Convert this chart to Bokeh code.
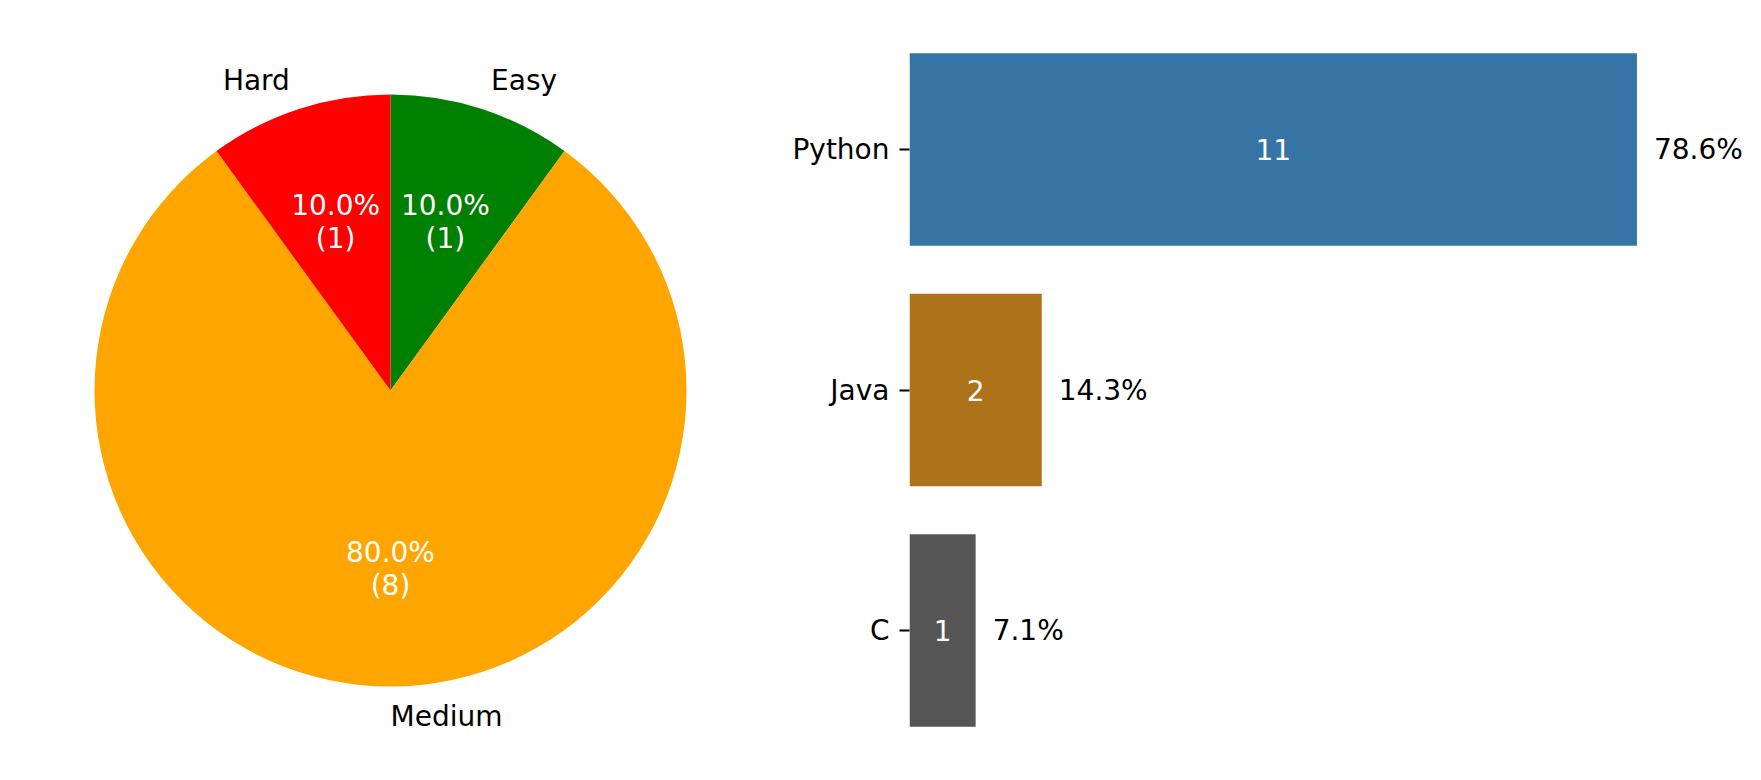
import math
from bokeh.plotting import figure
from bokeh.layouts import row
from bokeh.models import ColumnDataSource, Range1d, FixedTicker
from bokeh.core.properties import value
from bokeh.embed import file_html
from bokeh.resources import INLINE

# ---- data ----
difficulty = ["Easy", "Medium", "Hard"]
difficulty_counts = [1, 8, 1]
difficulty_colors = ["#008000", "#ffa500", "#ff0000"]

languages = ["C", "Java", "Python"]
language_counts = [1, 2, 11]
language_colors = ["#555555", "#ae721a", "#3574a5"]

FONT = value("DejaVu Sans")
FS = "28px"

# shared vertical frame geometry
TOP, FH, BOTTOM = 24, 731, 17
H = TOP + FH + BOTTOM

# ---- pie ----
R_PX = 296.0
W1 = 788
cx = 390.0           # centre x in figure px
cy_from_top = 366.0  # centre y measured from frame top
p1 = figure(width=W1, height=H, frame_width=W1, frame_height=FH,
            output_backend="svg", toolbar_location=None,
            x_axis_location=None, y_axis_location=None,
            min_border_left=0, min_border_right=0,
            min_border_top=TOP, min_border_bottom=BOTTOM,
            x_range=Range1d(-cx / R_PX, (W1 - cx) / R_PX),
            y_range=Range1d(-(FH - cy_from_top) / R_PX, cy_from_top / R_PX))
p1.grid.visible = False
p1.outline_line_color = None

total = sum(difficulty_counts)
starts, ends, lx, ly, align, px, py, pct1, pct2 = [], [], [], [], [], [], [], [], []
a = math.pi / 2
for name, c in zip(difficulty, difficulty_counts):
    span = 2 * math.pi * c / total
    b = a - span  # clockwise
    starts.append(b)
    ends.append(a)
    mid = (a + b) / 2
    lx.append(1.1 * math.cos(mid))
    ly.append(1.1 * math.sin(mid))
    align.append("left" if math.cos(mid) >= -1e-9 else "right")
    px.append(0.6 * math.cos(mid))
    py.append(0.6 * math.sin(mid))
    pct1.append(f"{100 * c / total:.1f}%")
    pct2.append(f"({c})")
    a = b

src1 = ColumnDataSource(dict(start=starts, end=ends, color=difficulty_colors,
                             lx=lx, ly=ly, label=difficulty, align=align,
                             px=px, py=py, pct1=pct1, pct2=pct2))
p1.wedge(x=0, y=0, radius=1, start_angle="start", end_angle="end",
         fill_color="color", line_color=None, source=src1)
p1.text(x="lx", y="ly", text="label", text_align="align", text_baseline="middle",
        text_font=FONT, text_font_size=FS, text_color="black", source=src1)
p1.text(x="px", y="py", text="pct1", text_align="center", text_baseline="middle",
        y_offset=-16, text_font=FONT, text_font_size=FS, text_color="white", source=src1)
p1.text(x="px", y="py", text="pct2", text_align="center", text_baseline="middle",
        y_offset=17, text_font=FONT, text_font_size=FS, text_color="white", source=src1)

# ---- bars ----
PX_PER_UNIT = 66.13
FW = 844
LEFT = 121
ypos = list(range(len(languages)))
ltotal = sum(language_counts)
p2 = figure(width=LEFT + FW, height=H, frame_width=FW, frame_height=FH,
            output_backend="svg", toolbar_location=None,
            x_axis_location=None, min_border_left=LEFT, min_border_right=0,
            min_border_top=TOP, min_border_bottom=BOTTOM,
            x_range=Range1d(0, FW / PX_PER_UNIT), y_range=Range1d(-0.52, 2.52))
p2.grid.visible = False
p2.outline_line_color = None
src2 = ColumnDataSource(dict(y=ypos, v=language_counts, color=language_colors,
                             half=[v / 2 for v in language_counts],
                             cnt=[str(v) for v in language_counts],
                             pct=[f"{100 * v / ltotal:.1f}%" for v in language_counts]))
p2.hbar(y="y", right="v", left=0, height=0.8, fill_color="color", line_color=None, source=src2)
p2.text(x="half", y="y", text="cnt", text_align="center", text_baseline="middle",
        text_font=FONT, text_font_size=FS, text_color="white", source=src2)
p2.text(x="v", y="y", text="pct", text_align="left", text_baseline="middle", x_offset=17,
        text_font=FONT, text_font_size=FS, text_color="black", source=src2)

ax = p2.yaxis[0]
ax.ticker = FixedTicker(ticks=ypos)
ax.major_label_overrides = {i: n for i, n in zip(ypos, languages)}
ax.axis_line_color = None
ax.major_tick_in = 0
ax.major_tick_out = 10
ax.major_tick_line_width = 2
ax.major_tick_line_color = "black"
ax.minor_tick_line_color = None
ax.major_label_standoff = 10
ax.major_label_text_font = "DejaVu Sans"
ax.major_label_text_font_size = FS
ax.major_label_text_color = "black"

layout = row(p1, p2)
open("out.html", "w").write(file_html(layout, INLINE))
